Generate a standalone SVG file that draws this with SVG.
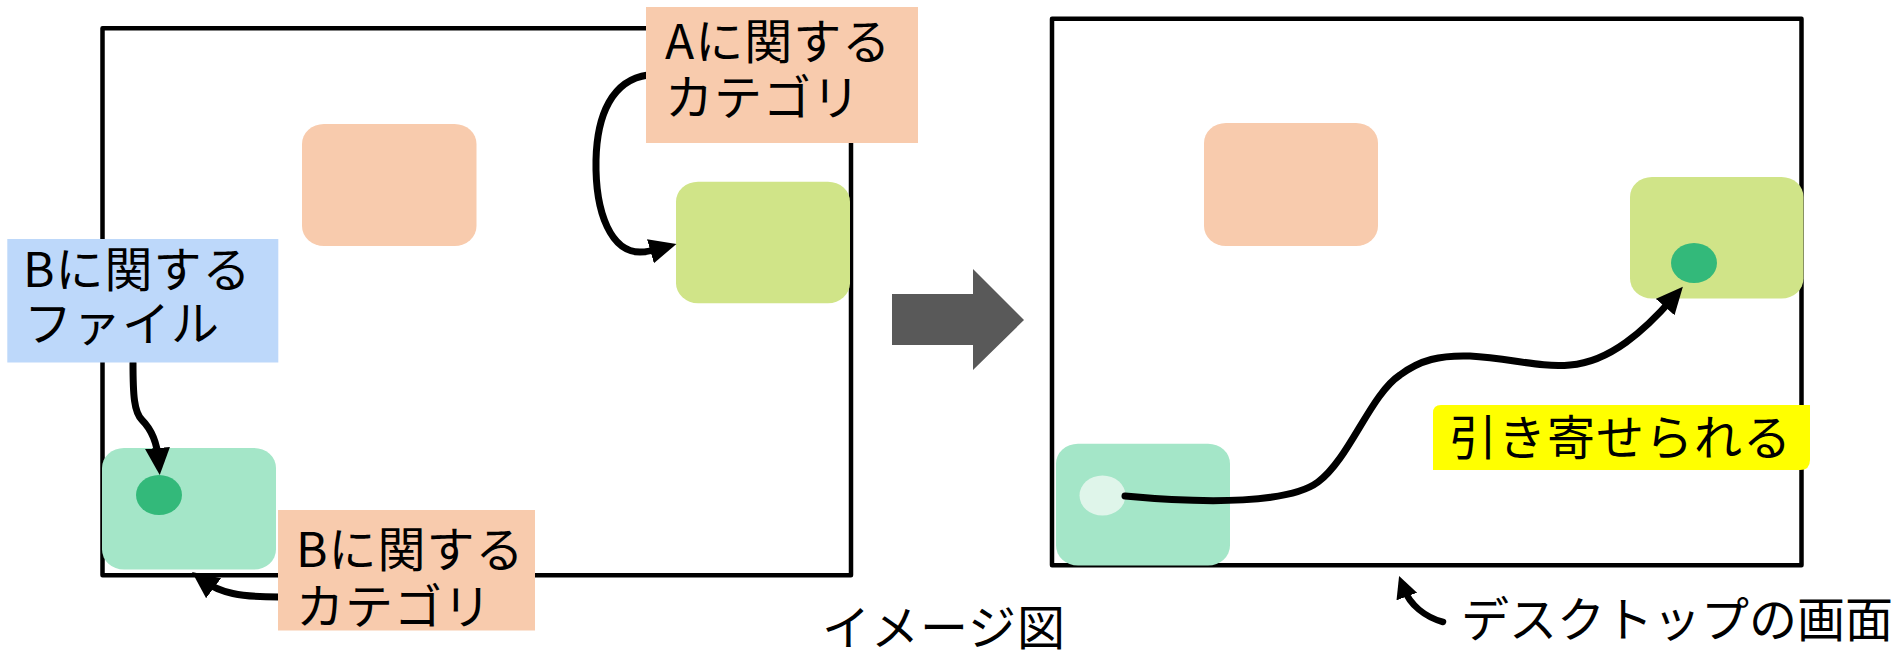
<svg xmlns="http://www.w3.org/2000/svg" width="1899" height="652" viewBox="0 0 1899 652">
  <style>
    .frame { fill: none; stroke: #000; stroke-width: 4.5; stroke-linejoin: round; }
    .orange { fill: #F8CBAD; }
    .lime { fill: #D0E488; }
    .mint { fill: #A4E6C8; }
    .blue { fill: #BDD8FA; }
    .yellow { fill: #FFFF00; }
    .dot { fill: #33B97A; }
    .dotlight { fill: #DFF5EA; }
    .lbl { font-family: "Noto Sans CJK JP", "Noto Sans", sans-serif; font-size: 48px; letter-spacing: 1px; fill: #000; }
    .conn { fill: none; stroke: #000; stroke-width: 7; stroke-linecap: round; }
  </style>
  <defs>
    <marker id="ah" markerUnits="userSpaceOnUse" markerWidth="30" markerHeight="28" refX="12" refY="12.5" orient="auto">
      <path d="M0,0 L27,12.5 L0,25 z" fill="#000"/>
    </marker>
    <marker id="ahs" markerUnits="userSpaceOnUse" markerWidth="26" markerHeight="24" refX="8" refY="11" orient="auto">
      <path d="M0,0 L22,11 L0,22 z" fill="#000"/>
    </marker>
  </defs>

  <rect width="1899" height="652" fill="#fff"/>

  <g id="image-frame">
    <rect class="frame" x="102.5" y="28.3" width="748.5" height="547"/>
  </g>
  <g id="desktop-frame">
    <rect class="frame" x="1052" y="18.7" width="749.5" height="546.5"/>
  </g>

  <g id="left-orange"><rect class="orange" x="302" y="124" width="174.5" height="122" rx="22" ry="20"/></g>
  <g id="left-lime"><rect class="lime" x="676" y="181.7" width="174" height="121.5" rx="22" ry="20"/></g>
  <g id="left-mint">
    <rect class="mint" x="102" y="448" width="174" height="121.5" rx="22" ry="20"/>
    <ellipse class="dot" cx="159" cy="495" rx="23" ry="20"/>
  </g>

  <g id="right-orange"><rect class="orange" x="1204" y="123" width="174" height="123" rx="22" ry="20"/></g>
  <g id="right-lime">
    <rect class="lime" x="1630" y="177" width="173.5" height="121.5" rx="22" ry="20"/>
    <ellipse class="dot" cx="1694" cy="263" rx="23" ry="20"/>
  </g>
  <g id="right-mint">
    <rect class="mint" x="1056" y="443.7" width="174" height="121.8" rx="22" ry="20"/>
    <ellipse class="dotlight" cx="1102.5" cy="495.5" rx="23" ry="20"/>
  </g>

  <g id="big-arrow">
    <polygon points="892,294 973,294 973,269 1024,320 973,370 973,345 892,345" fill="#595959"/>
  </g>

  <g id="connectors">
    <path class="conn" d="M648,75 C612,80 597,115 596,160 C595,215 612,252 640,252 C648,252 655,250 662,248" marker-end="url(#ah)"/>
    <path class="conn" d="M133,363 C133,395 134,412 142,420 C152,430 157,442 158.5,460" marker-end="url(#ah)"/>
    <path class="conn" d="M279,597 C240,597 220,593 204,581" marker-end="url(#ah)"/>
    <path class="conn" d="M1125,496 C1210,504 1290,503 1318,482 C1350,458 1370,395 1400,375 C1420,360 1440,355 1470,356 C1510,358 1540,368 1570,365 C1610,362 1645,330 1673,298" marker-end="url(#ah)"/>
    <path class="conn" style="stroke-width:6.5" d="M1443,622 C1425,617 1410,605 1404,589" marker-end="url(#ahs)"/>
  </g>

  <g id="label-a-category">
    <rect class="orange" x="646" y="7" width="272" height="136"/>
    <text class="lbl" x="665" y="58.5">Aに関する</text>
    <text class="lbl" x="665" y="115">カテゴリ</text>
  </g>
  <g id="label-b-file">
    <rect class="blue" x="7.3" y="239" width="271" height="123.5"/>
    <text class="lbl" x="23" y="287">Bに関する</text>
    <text class="lbl" x="24" y="340.5">ファイル</text>
  </g>
  <g id="label-b-category">
    <rect class="orange" x="278" y="510" width="257" height="120.5"/>
    <text class="lbl" x="296" y="567">Bに関する</text>
    <text class="lbl" x="296" y="623.5">カテゴリ</text>
  </g>
  <g id="label-pulled">
    <path class="yellow" d="M1433,413 Q1433,405 1441,405 L1810,405 L1810,460 Q1810,470 1800,470 L1433,470 z"/>
    <text class="lbl" x="1449" y="455">引き寄せられる</text>
  </g>
  <g id="caption-image">
    <text class="lbl" x="822" y="645">イメージ図</text>
  </g>
  <g id="caption-desktop">
    <text class="lbl" x="1461" y="637" style="letter-spacing:0">デスクトップの画面</text>
  </g>
</svg>
